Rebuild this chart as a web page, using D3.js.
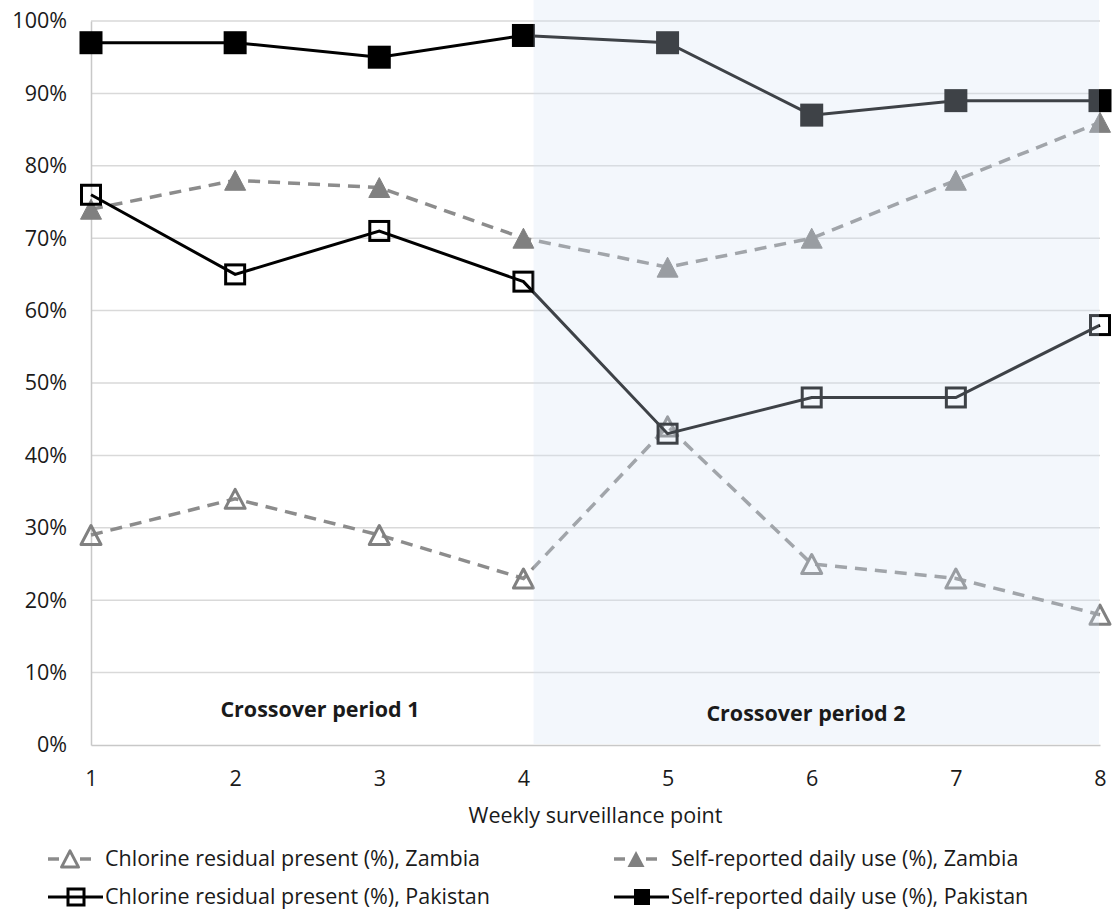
<!DOCTYPE html>
<html>
<head>
<meta charset="utf-8">
<script src="https://cdn.jsdelivr.net/npm/d3@7"></script>
<style>
  body { margin: 0; background: #fff; }
  text { font-family: "Open Sans", "Liberation Sans", sans-serif; fill: #1a1a1a; }
</style>
</head>
<body>
<div id="chart"></div>
<script>
var width = 1113, height = 917;

// weekly surveillance points
var weeks = [1, 2, 3, 4, 5, 6, 7, 8];
// values in percent
var zambiaChlorine = [29, 34, 29, 23, 44, 25, 23, 18];
var zambiaSelf = [74, 78, 77, 70, 66, 70, 78, 86];
var pakistanChlorine = [76, 65, 71, 64, 43, 48, 48, 58];
var pakistanSelf = [97, 97, 95, 98, 97, 87, 89, 89];
var yTicks = [0, 10, 20, 30, 40, 50, 60, 70, 80, 90, 100];
var periodLabels = ["Crossover period 1", "Crossover period 2"];
var shadeFrom = 4.07, shadeTo = 8;

var plotLeft = 91, plotRight = 1100, plotTop = 21, plotBottom = 745;
var fs = "21.5px";

var svg = d3.select("#chart").append("svg")
            .attr("width", width).attr("height", height);

var xScale = d3.scaleLinear().domain([1, 8]).range([plotLeft, plotRight]);
var yScale = d3.scaleLinear().domain([0, 100]).range([plotBottom, plotTop]);

// grid lines
svg.append("g").selectAll("line").data(yTicks.slice(1)).enter().append("line")
    .attr("x1", plotLeft).attr("x2", plotRight)
    .attr("y1", function(d){ return yScale(d); })
    .attr("y2", function(d){ return yScale(d); })
    .attr("stroke", "#d9d9d9").attr("stroke-width", 1.5);

// axes
var yAxis = d3.axisLeft(yScale).tickValues(yTicks)
              .tickFormat(function(d){ return d + "%"; }).tickSize(0).tickPadding(24);
var gy = svg.append("g").attr("transform", "translate(" + plotLeft + ",0)").call(yAxis);
gy.select(".domain").attr("stroke", "#c8c8c8").attr("stroke-width", 1.5);
gy.selectAll("text").style("font-size", fs).attr("fill", "#1a1a1a");

var xAxis = d3.axisBottom(xScale).tickValues(weeks).tickFormat(d3.format("d")).tickSize(0).tickPadding(26);
var gx = svg.append("g").attr("transform", "translate(0," + plotBottom + ")").call(xAxis);
gx.select(".domain").attr("stroke", "#c8c8c8").attr("stroke-width", 1.5);
gx.selectAll("text").style("font-size", fs).attr("fill", "#1a1a1a");

svg.append("text").attr("x", (plotLeft + plotRight) / 2).attr("y", 823)
   .attr("text-anchor", "middle").style("font-size", fs)
   .text("Weekly surveillance point");

var line = d3.line()
    .x(function(d, i){ return xScale(weeks[i]); })
    .y(function(d){ return yScale(d); });

// series, drawn back to front
var series = [
  {values: zambiaChlorine, color: "#8c8c8c", dash: "12,8", width: 3.5, shape: "tri", fill: "none"},
  {values: zambiaSelf, color: "#8c8c8c", dash: "12,8", width: 3.5, shape: "tri", fill: "#808080"},
  {values: pakistanChlorine, color: "#000", dash: null, width: 3, shape: "sq", fill: "none"},
  {values: pakistanSelf, color: "#000", dash: null, width: 3, shape: "sq", fill: "#000"}
];

function triPath(cx, cy, s) {
  var h = s * 0.95;
  return "M" + cx + "," + (cy - h / 2) + "L" + (cx + s / 2) + "," + (cy + h / 2) +
         "L" + (cx - s / 2) + "," + (cy + h / 2) + "Z";
}

series.forEach(function(s){
  svg.append("path").datum(s.values)
     .attr("d", line)
     .attr("fill", "none")
     .attr("stroke", s.color)
     .attr("stroke-width", s.width)
     .attr("stroke-dasharray", s.dash);
  var g = svg.append("g");
  s.values.forEach(function(v, i){
    var cx = xScale(weeks[i]), cy = yScale(v);
    if (s.shape == "sq") {
      var sz = s.fill == "none" ? 19 : 21;
      var r = g.append("rect")
               .attr("x", cx - sz / 2).attr("y", cy - sz / 2)
               .attr("width", sz).attr("height", sz);
      if (s.fill == "none") r.attr("fill", "none").attr("stroke", "#000").attr("stroke-width", 3);
      else r.attr("fill", "#000").attr("stroke", "#000").attr("stroke-width", 2);
    } else {
      if (s.fill == "none") {
        g.append("path").attr("d", triPath(cx, cy, 20))
         .attr("fill", "none").attr("stroke", "#808080").attr("stroke-width", 3).attr("stroke-linejoin", "round");
      } else {
        g.append("path").attr("d", triPath(cx, cy, 21))
         .attr("fill", "#808080").attr("stroke", "#808080").attr("stroke-width", 1);
      }
    }
  });
});

// translucent band for crossover period 2, laid over the marks
svg.append("rect")
   .attr("x", xScale(shadeFrom)).attr("y", 0)
   .attr("width", xScale(shadeTo) - xScale(shadeFrom) - 1)
   .attr("height", plotBottom - 1)
   .attr("fill", "rgb(214,226,246)")
   .attr("fill-opacity", 0.29);

// period labels
svg.append("text").attr("x", 320).attr("y", 717)
   .attr("text-anchor", "middle").style("font-size", fs).style("font-weight", "bold")
   .text(periodLabels[0]);
svg.append("text").attr("x", 806).attr("y", 721)
   .attr("text-anchor", "middle").style("font-size", fs).style("font-weight", "bold")
   .text(periodLabels[1]);

// legend
var legend = [
  {label: "Chlorine residual present (%), Zambia", s: series[0], x: 48, y: 859},
  {label: "Self-reported daily use (%), Zambia", s: series[1], x: 614, y: 859},
  {label: "Chlorine residual present (%), Pakistan", s: series[2], x: 48, y: 897},
  {label: "Self-reported daily use (%), Pakistan", s: series[3], x: 614, y: 897}
];

legend.forEach(function(l){
  var g = svg.append("g");
  var s = l.s;
  if (s.shape == "tri") {
    g.append("line").attr("x1", l.x).attr("x2", l.x + 11).attr("y1", l.y).attr("y2", l.y)
     .attr("stroke", s.color).attr("stroke-width", 3.5);
    g.append("line").attr("x1", l.x + 32).attr("x2", l.x + 43).attr("y1", l.y).attr("y2", l.y)
     .attr("stroke", s.color).attr("stroke-width", 3.5);
    var t = g.append("path").attr("d", triPath(l.x + 22, l.y, 17));
    if (s.fill == "none") t.attr("fill", "none").attr("stroke", "#808080").attr("stroke-width", 3).attr("stroke-linejoin", "round");
    else t.attr("fill", "#808080");
  } else {
    g.append("line").attr("x1", l.x).attr("x2", l.x + 55).attr("y1", l.y).attr("y2", l.y)
     .attr("stroke", "#000").attr("stroke-width", 3);
    var sz = 16;
    var r = g.append("rect").attr("x", l.x + 28 - sz / 2).attr("y", l.y - sz / 2)
             .attr("width", sz).attr("height", sz);
    if (s.fill == "none") r.attr("fill", "none").attr("stroke", "#000").attr("stroke-width", 3);
    else r.attr("fill", "#000");
  }
  g.append("text").attr("x", l.x + 57).attr("y", l.y + 7)
   .style("font-size", fs).text(l.label);
});
</script>
</body>
</html>
